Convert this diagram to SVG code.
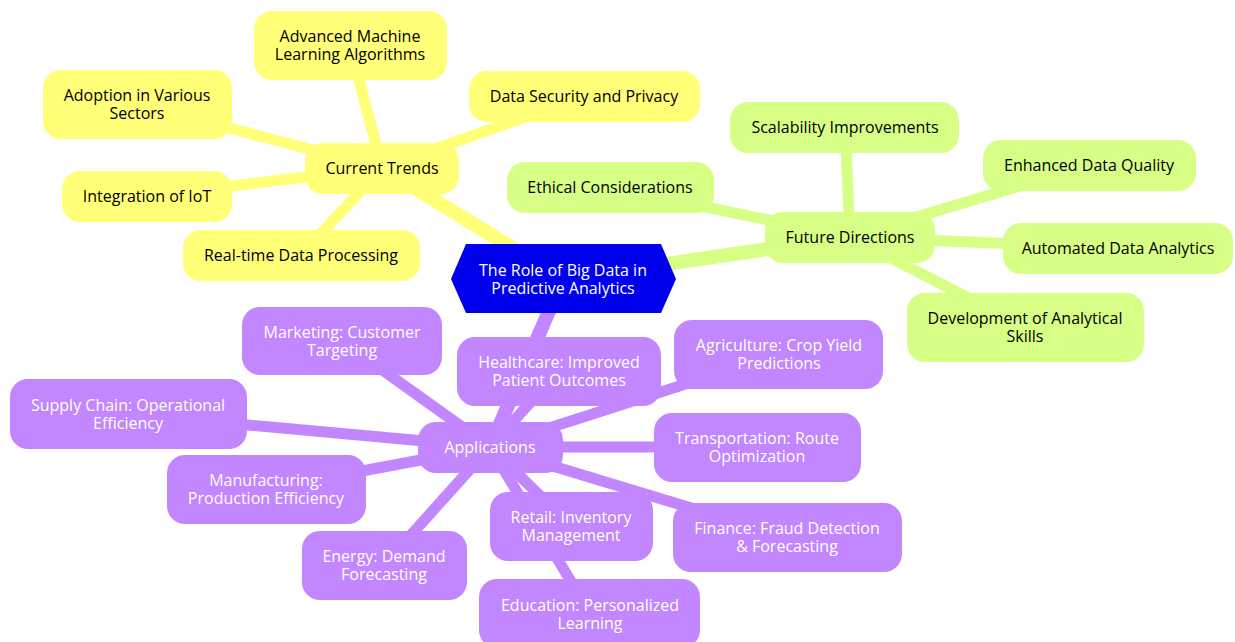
<svg xmlns="http://www.w3.org/2000/svg" width="1235" height="642" viewBox="0 0 1235 642">
  <style>
    text { font-family: "Open Sans", "Noto Sans", "Liberation Sans", sans-serif; font-size: 16px; text-anchor: middle; dominant-baseline: central; }
    .edge { fill: none; stroke-linecap: butt; }
    .e0 { stroke-width: 14; }
    .e1 { stroke-width: 11; }
    .yellow { fill: #ffff78; }
    .green { fill: #d7ff86; }
    .purple { fill: #c286ff; }
    .ys { stroke: #ffff78; }
    .gs { stroke: #d7ff86; }
    .ps { stroke: #c286ff; }
    .dark { fill: #000000; }
    .light { fill: #ffffff; }
  </style>

  <!-- connectors -->
  <g id="connectors">
    <!-- Current Trends branch -->
    <line class="edge e0 ys" x1="563" y1="279" x2="382" y2="168"/>
    <line class="edge e1 ys" x1="382" y1="168" x2="350" y2="45"/>
    <line class="edge e1 ys" x1="382" y1="168" x2="137" y2="104"/>
    <line class="edge e1 ys" x1="382" y1="168" x2="147" y2="196"/>
    <line class="edge e1 ys" x1="382" y1="168" x2="301" y2="255"/>
    <line class="edge e1 ys" x1="382" y1="168" x2="584" y2="96"/>
    <!-- Future Directions branch -->
    <line class="edge e0 gs" x1="563" y1="279" x2="850" y2="237"/>
    <line class="edge e1 gs" x1="850" y1="237" x2="845" y2="127"/>
    <line class="edge e1 gs" x1="850" y1="237" x2="610" y2="187"/>
    <line class="edge e1 gs" x1="850" y1="237" x2="1089" y2="165"/>
    <line class="edge e1 gs" x1="850" y1="237" x2="1118" y2="248"/>
    <line class="edge e1 gs" x1="850" y1="237" x2="1025" y2="327"/>
    <!-- Applications branch -->
    <line class="edge e0 ps" x1="563" y1="279" x2="490" y2="447"/>
    <line class="edge e1 ps" x1="490" y1="447" x2="342" y2="341"/>
    <line class="edge e1 ps" x1="490" y1="447" x2="128" y2="414"/>
    <line class="edge e1 ps" x1="490" y1="447" x2="266" y2="489"/>
    <line class="edge e1 ps" x1="490" y1="447" x2="384" y2="565"/>
    <line class="edge e1 ps" x1="490" y1="447" x2="559" y2="371"/>
    <line class="edge e1 ps" x1="490" y1="447" x2="779" y2="354"/>
    <line class="edge e1 ps" x1="490" y1="447" x2="757" y2="447"/>
    <line class="edge e1 ps" x1="490" y1="447" x2="787" y2="537"/>
    <line class="edge e1 ps" x1="490" y1="447" x2="571" y2="526"/>
    <line class="edge e1 ps" x1="490" y1="447" x2="590" y2="613"/>
  </g>

  <!-- Current Trends -->
  <g id="current-trends">
    <rect class="yellow" x="305" y="143" width="154" height="51" rx="18"/>
    <text class="dark" x="382" y="168">Current Trends</text>
  </g>
  <g id="advanced-ml">
    <rect class="yellow" x="254" y="11" width="193" height="69" rx="18"/>
    <text class="dark" y="36"><tspan x="350">Advanced Machine</tspan><tspan x="350" dy="18">Learning Algorithms</tspan></text>
  </g>
  <g id="adoption-sectors">
    <rect class="yellow" x="43" y="70" width="189" height="69" rx="18"/>
    <text class="dark" y="95"><tspan x="137">Adoption in Various</tspan><tspan x="137" dy="18">Sectors</tspan></text>
  </g>
  <g id="integration-iot">
    <rect class="yellow" x="62" y="171" width="170" height="51" rx="18"/>
    <text class="dark" x="147" y="196">Integration of IoT</text>
  </g>
  <g id="realtime-processing">
    <rect class="yellow" x="183" y="230" width="237" height="51" rx="18"/>
    <text class="dark" x="301" y="255">Real-time Data Processing</text>
  </g>
  <g id="data-security">
    <rect class="yellow" x="469" y="71" width="231" height="51" rx="18"/>
    <text class="dark" x="584" y="96">Data Security and Privacy</text>
  </g>

  <!-- Future Directions -->
  <g id="future-directions">
    <rect class="green" x="765" y="212" width="170" height="51" rx="18"/>
    <text class="dark" x="850" y="237">Future Directions</text>
  </g>
  <g id="scalability">
    <rect class="green" x="730" y="102" width="229" height="51" rx="18"/>
    <text class="dark" x="845" y="127">Scalability Improvements</text>
  </g>
  <g id="ethical">
    <rect class="green" x="507" y="162" width="207" height="51" rx="18"/>
    <text class="dark" x="610" y="187">Ethical Considerations</text>
  </g>
  <g id="data-quality">
    <rect class="green" x="983" y="140" width="213" height="51" rx="18"/>
    <text class="dark" x="1089" y="165">Enhanced Data Quality</text>
  </g>
  <g id="automated-analytics">
    <rect class="green" x="1003" y="223" width="230" height="51" rx="18"/>
    <text class="dark" x="1118" y="248">Automated Data Analytics</text>
  </g>
  <g id="analytical-skills">
    <rect class="green" x="907" y="293" width="237" height="69" rx="18"/>
    <text class="dark" y="318"><tspan x="1025">Development of Analytical</tspan><tspan x="1025" dy="18">Skills</tspan></text>
  </g>

  <!-- Applications -->
  <g id="applications">
    <rect class="purple" x="418" y="422" width="145" height="51" rx="18"/>
    <text class="light" x="490" y="447">Applications</text>
  </g>
  <g id="marketing">
    <rect class="purple" x="242" y="307" width="200" height="68" rx="18"/>
    <text class="light" y="332"><tspan x="342">Marketing: Customer</tspan><tspan x="342" dy="18">Targeting</tspan></text>
  </g>
  <g id="supply-chain">
    <rect class="purple" x="10" y="379" width="237" height="70" rx="18"/>
    <text class="light" y="405"><tspan x="128">Supply Chain: Operational</tspan><tspan x="128" dy="18">Efficiency</tspan></text>
  </g>
  <g id="manufacturing">
    <rect class="purple" x="167" y="455" width="199" height="69" rx="18"/>
    <text class="light" y="480"><tspan x="266">Manufacturing:</tspan><tspan x="266" dy="18">Production Efficiency</tspan></text>
  </g>
  <g id="energy">
    <rect class="purple" x="302" y="531" width="165" height="69" rx="18"/>
    <text class="light" y="556"><tspan x="384">Energy: Demand</tspan><tspan x="384" dy="18">Forecasting</tspan></text>
  </g>
  <g id="healthcare">
    <rect class="purple" x="457" y="337" width="204" height="69" rx="18"/>
    <text class="light" y="362"><tspan x="559">Healthcare: Improved</tspan><tspan x="559" dy="18">Patient Outcomes</tspan></text>
  </g>
  <g id="agriculture">
    <rect class="purple" x="674" y="320" width="209" height="69" rx="18"/>
    <text class="light" y="345"><tspan x="779">Agriculture: Crop Yield</tspan><tspan x="779" dy="18">Predictions</tspan></text>
  </g>
  <g id="transportation">
    <rect class="purple" x="654" y="413" width="207" height="69" rx="18"/>
    <text class="light" y="438"><tspan x="757">Transportation: Route</tspan><tspan x="757" dy="18">Optimization</tspan></text>
  </g>
  <g id="finance">
    <rect class="purple" x="673" y="503" width="229" height="69" rx="18"/>
    <text class="light" y="528"><tspan x="787">Finance: Fraud Detection</tspan><tspan x="787" dy="18">&amp; Forecasting</tspan></text>
  </g>
  <g id="retail">
    <rect class="purple" x="490" y="492" width="163" height="69" rx="18"/>
    <text class="light" y="517"><tspan x="571">Retail: Inventory</tspan><tspan x="571" dy="18">Management</tspan></text>
  </g>
  <g id="education">
    <rect class="purple" x="479" y="579" width="221" height="69" rx="18"/>
    <text class="light" y="605"><tspan x="590">Education: Personalized</tspan><tspan x="590" dy="18">Learning</tspan></text>
  </g>

  <!-- Root -->
  <g id="root">
    <polygon points="451,279 466,244 661,244 676,279 661,313 466,313" fill="#0000ec"/>
    <text class="light" y="270"><tspan x="563">The Role of Big Data in</tspan><tspan x="563" dy="18">Predictive Analytics</tspan></text>
  </g>
</svg>
